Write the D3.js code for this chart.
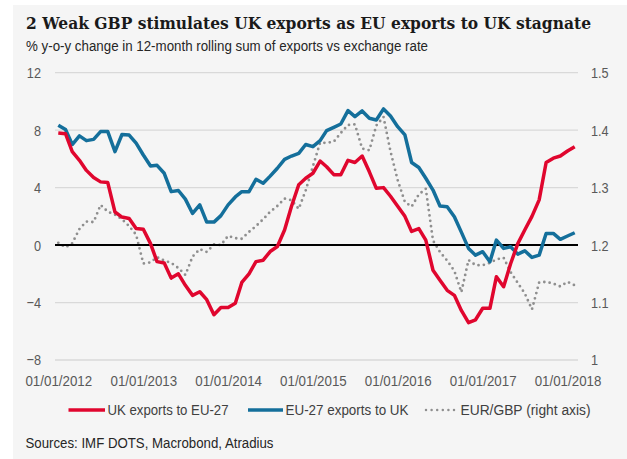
<!DOCTYPE html>
<html>
<head>
<meta charset="utf-8">
<script src="https://cdn.jsdelivr.net/npm/d3@7"></script>
<style>
  html, body { margin: 0; padding: 0; background: #ffffff; }
  svg { display: block; }
  .narrow { font-family: "Liberation Sans Narrow", "Arial Narrow", "Liberation Sans", Arial, sans-serif; }
</style>
</head>
<body>
<svg id="chart" width="627" height="459"></svg>
<script>
// ---- data (monthly, Jan 2012 - Feb 2018) ----
const startMonth = "2012-01-01";
const ukExports = [7.8, 7.75, 6.5, 5.9, 5.2, 4.7, 4.4, 4.35, 2.3, 1.95, 1.85, 1.15,
  1.1, 0.1, -1.15, -1.25, -2.3, -2.0, -2.8, -3.5, -3.25, -3.8, -4.85, -4.35,
  -4.35, -4.05, -2.6, -2.0, -1.15, -1.05, -0.45, -0.1, 1.05, 2.7, 4.2, 4.65,
  5.0, 5.85, 5.45, 4.9, 4.9, 5.9, 5.75, 6.2, 5.1, 3.95, 4.0, 3.4,
  2.7, 2.0, 0.95, 1.15, 0.35, -1.75, -2.45, -3.15, -3.5, -4.55, -5.4, -5.2,
  -4.4, -4.4, -2.2, -2.9, -1.3, 0.1, 1.05, 2.0, 3.15, 5.75, 6.05, 6.2,
  6.55, 6.85];
const euExports = [8.35, 8.05, 7.0, 7.6, 7.27, 7.36, 7.9, 7.9, 6.5, 7.7, 7.66, 7.1,
  6.27, 5.5, 5.55, 5.0, 3.72, 3.8, 3.2, 2.2, 2.8, 1.6, 1.6, 2.05,
  2.8, 3.35, 3.72, 3.72, 4.58, 4.3, 4.8, 5.35, 5.97, 6.2, 6.39, 7.0,
  6.85, 7.27, 7.97, 8.2, 8.43, 9.36, 8.94, 9.34, 8.83, 8.71, 9.48, 8.99,
  8.24, 7.67, 5.75, 5.4, 4.65, 3.83, 2.72, 2.67, 1.97, 0.9, -0.23, -0.7,
  -0.46, -1.16, 0.35, -0.23, -0.12, -0.63, -0.4, -0.86, -0.7, 0.81, 0.81, 0.4,
  0.63, 0.86];
const eurGbp = [1.204, 1.196, 1.203, 1.228, 1.241, 1.240, 1.270, 1.258, 1.253, 1.245, 1.233, 1.218,
  1.168, 1.170, 1.179, 1.173, 1.169, 1.160, 1.148, 1.180, 1.193, 1.188, 1.201, 1.200,
  1.216, 1.212, 1.211, 1.223, 1.233, 1.245, 1.258, 1.268, 1.281, 1.278, 1.263, 1.295,
  1.337, 1.378, 1.378, 1.380, 1.395, 1.409, 1.410, 1.368, 1.365, 1.408, 1.423, 1.363,
  1.313, 1.275, 1.267, 1.288, 1.298, 1.208, 1.188, 1.173, 1.155, 1.118, 1.174, 1.165,
  1.165, 1.169, 1.175, 1.178, 1.153, 1.134, 1.116, 1.088, 1.135, 1.136, 1.133, 1.128,
  1.136, 1.130];
const leftTicks = [-8, -4, 0, 4, 8, 12];
const rightTicks = [1, 1.1, 1.2, 1.3, 1.4, 1.5];
const xTickYears = [2012, 2013, 2014, 2015, 2016, 2017, 2018];
const seriesNames = ["UK exports to EU-27", "EU-27 exports to UK", "EUR/GBP (right axis)"];
const titleText = "2 Weak GBP stimulates UK exports as EU exports to UK stagnate";
const subtitleText = "% y-o-y change in 12-month rolling sum of exports vs exchange rate";
const sourceText = "Sources: IMF DOTS, Macrobond, Atradius";

// ---- build ----
const svg = d3.select("#chart");
const parse = d3.timeParse("%Y-%m-%d");
const t0 = parse(startMonth);
const dates = ukExports.map((_, i) => d3.timeMonth.offset(t0, i));

const x = d3.scaleTime()
  .domain([new Date(2012, 0, 1), new Date(2018, 0, 1)])
  .range([58.3, 567.5]);
const yL = d3.scaleLinear().domain([-8, 12]).range([360, 72.7]);
const yR = d3.scaleLinear().domain([1, 1.5]).range([360, 72.7]);

const plotL = 55, plotR = 578;
const FS = 15.5;

// emulate a narrow font by condensing text to 82% of its natural width
function condense(sel, factor) {
  sel.each(function() {
    const w = this.getComputedTextLength();
    d3.select(this).attr("textLength", w * factor).attr("lengthAdjust", "spacingAndGlyphs");
  });
}

// panel background
svg.append("rect").attr("x", 13).attr("y", 5).attr("width", 614).attr("height", 454)
  .attr("fill", "#f5f5f5");

// title + subtitle
const title = svg.append("text").attr("x", 26).attr("y", 29)
  .attr("font-family", "'DejaVu Serif', 'Liberation Serif', serif")
  .attr("font-weight", "bold").attr("font-size", 17).attr("fill", "#1a1a1a")
  .text(titleText);
{
  const w = title.node().getComputedTextLength();
  const target = 565;
  if (w > target * 1.06) title.attr("font-size", 17 * target * 1.06 / w);
  title.attr("textLength", target).attr("lengthAdjust", "spacingAndGlyphs");
}
svg.append("text").attr("class", "narrow").attr("x", 26).attr("y", 51)
  .attr("font-size", FS).attr("fill", "#262626")
  .attr("textLength", 402).attr("lengthAdjust", "spacingAndGlyphs")
  .text(subtitleText);

// gridlines
svg.append("g").selectAll("line")
  .data(leftTicks.filter(d => d !== 0))
  .join("line")
  .attr("x1", plotL).attr("x2", plotR)
  .attr("y1", d => yL(d)).attr("y2", d => yL(d))
  .attr("stroke", "#d9d9d9").attr("stroke-width", 1.3);

// left axis
const gL = svg.append("g").attr("class", "narrow").attr("transform", `translate(${plotL},0)`)
  .call(d3.axisLeft(yL).tickValues(leftTicks).tickSize(0).tickPadding(14).tickFormat(d3.format("d")));
gL.select(".domain").remove();
gL.selectAll("text").attr("font-size", FS).attr("fill", "#595959").attr("font-family", null).call(condense, 0.82);

// right axis
const gR = svg.append("g").attr("class", "narrow").attr("transform", `translate(${plotR},0)`)
  .call(d3.axisRight(yR).tickValues(rightTicks).tickSize(0).tickPadding(13).tickFormat(d => d3.format("")(+d.toFixed(1))));
gR.select(".domain").remove();
gR.selectAll("text").attr("font-size", FS).attr("fill", "#595959").attr("font-family", null).call(condense, 0.82);

// x axis
const gX = svg.append("g").attr("class", "narrow").attr("transform", `translate(0,360)`)
  .call(d3.axisBottom(x).tickValues(xTickYears.map(yv => new Date(yv, 0, 1)))
    .tickSize(0).tickPadding(15).tickFormat(d3.timeFormat("%d/%m/%Y")));
gX.select(".domain").remove();
gX.selectAll("text").attr("font-size", FS).attr("fill", "#595959").attr("font-family", null).call(condense, 0.86);

// lines
const lineL = d3.line().x((d, i) => x(dates[i])).y(d => yL(d));
const lineR = d3.line().x((d, i) => x(dates[i])).y(d => yR(d));

svg.append("path").datum(eurGbp).attr("d", lineR)
  .attr("fill", "none").attr("stroke", "#8f8f8f").attr("stroke-width", 2.8)
  .attr("stroke-linecap", "round").attr("stroke-dasharray", "0 5.4");

// zero line
svg.append("line").attr("x1", plotL).attr("x2", plotR)
  .attr("y1", yL(0)).attr("y2", yL(0))
  .attr("stroke", "#000").attr("stroke-width", 2);

svg.append("path").datum(euExports).attr("d", lineL)
  .attr("fill", "none").attr("stroke", "#146f9b").attr("stroke-width", 3.5)
  .attr("stroke-linejoin", "round");
svg.append("path").datum(ukExports).attr("d", lineL)
  .attr("fill", "none").attr("stroke", "#e0062e").attr("stroke-width", 3.5)
  .attr("stroke-linejoin", "round");

// legend
const legY = 410;
const leg = svg.append("g").attr("class", "narrow");
const legItems = [
  {name: seriesNames[0], x1: 68.5, x2: 105, tx: 107.5, tw: 121, color: "#e0062e", dash: null},
  {name: seriesNames[1], x1: 248, x2: 283, tx: 285.5, tw: 123, color: "#146f9b", dash: null},
  {name: seriesNames[2], x1: 426, x2: 456, tx: 460.5, tw: 130, color: "#8f8f8f", dash: "0 5.6"}
];
legItems.forEach(it => {
  leg.append("line").attr("x1", it.x1).attr("x2", it.x2).attr("y1", legY).attr("y2", legY)
    .attr("stroke", it.color).attr("stroke-width", it.dash ? 2.5 : 3.5)
    .attr("stroke-linecap", it.dash ? "round" : "butt")
    .attr("stroke-dasharray", it.dash);
  leg.append("text").attr("x", it.tx).attr("y", legY).attr("dy", "0.35em")
    .attr("font-size", FS).attr("fill", "#404040")
    .attr("textLength", it.tw).attr("lengthAdjust", "spacingAndGlyphs")
    .text(it.name);
});

// sources
svg.append("text").attr("class", "narrow").attr("x", 25.5).attr("y", 448)
  .attr("font-size", FS).attr("fill", "#262626")
  .attr("textLength", 248).attr("lengthAdjust", "spacingAndGlyphs")
  .text(sourceText);
</script>
</body>
</html>
